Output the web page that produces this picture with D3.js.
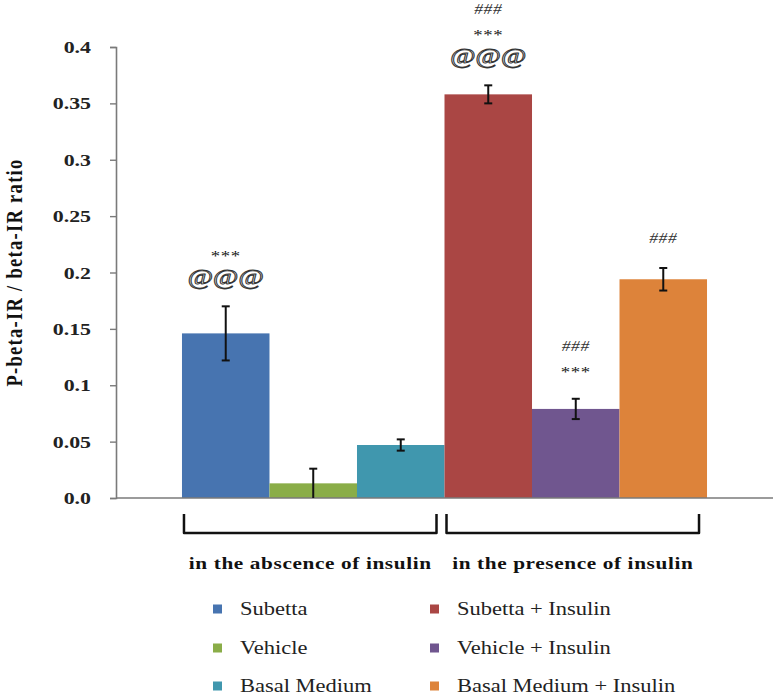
<!DOCTYPE html>
<html>
<head>
<meta charset="utf-8">
<script src="https://cdn.jsdelivr.net/npm/d3@7"></script>
<style>
  body { margin: 0; background: #fff; }
  svg { display: block; }
</style>
</head>
<body>
<div class="chart"></div>
<script>
const categories = ["Subetta", "Vehicle", "Basal Medium", "Subetta + Insulin", "Vehicle + Insulin", "Basal Medium + Insulin"];
const values = [0.146, 0.013, 0.047, 0.358, 0.079, 0.194];
const errors = [0.024, 0.013, 0.005, 0.008, 0.009, 0.010];
const marks = [["***", "@@@"], [], [], ["###", "***", "@@@"], ["###", "***"], ["###"]];
const colors = ["#4774b0", "#8aad48", "#4097ae", "#aa4644", "#70568f", "#dd833a"];
const groupLabels = ["in the abscence of insulin", "in the presence of insulin"];
const groupMembers = [[0, 1, 2], [3, 4, 5]];
const yTicks = [0, 0.05, 0.1, 0.15, 0.2, 0.25, 0.3, 0.35, 0.4];

const data = categories.map((c, i) => ({name: c, value: values[i], err: errors[i], marks: marks[i], color: colors[i]}));

const width = 779, height = 696;
const plot = {left: 116, right: 773, top: 47, bottom: 498};
const serif = "'Liberation Serif', 'Times New Roman', serif";
const SX = 1.25; // the original figure is stretched sideways

const svg = d3.select(".chart").append("svg")
    .attr("width", width)
    .attr("height", height);

// text at (x,y), widened by SX
function wideText(g, x, y, str) {
  return g.append("text")
      .attr("transform", "translate(" + x + "," + y + ") scale(" + SX + ",1)")
      .attr("font-family", serif)
      .text(str);
}

const x = d3.scaleBand()
    .domain(categories)
    .range([plot.left, plot.right])
    .paddingInner(0)
    .paddingOuter(0.754);

const y = d3.scaleLinear()
    .domain([0, 0.4])
    .range([plot.bottom, plot.top]);

// bars
svg.append("g")
  .selectAll("rect")
  .data(data)
  .join("rect")
    .attr("x", d => x(d.name))
    .attr("y", d => y(d.value))
    .attr("width", x.bandwidth())
    .attr("height", d => y(0) - y(d.value))
    .attr("fill", d => d.color);

// y axis
const yAxis = d3.axisLeft(y)
    .tickValues(yTicks)
    .tickSize(6)
    .tickPadding(25)
    .tickFormat(d => d === 0 ? "0.0" : String(+d.toFixed(2)));

svg.append("g")
    .attr("class", "y-axis")
    .attr("transform", "translate(" + plot.left + ",0)")
    .call(yAxis)
    .call(g => g.select(".domain").attr("stroke", "#7a7a7a").attr("stroke-width", 1.6))
    .call(g => g.selectAll(".tick line").attr("stroke", "#7a7a7a").attr("stroke-width", 1.4))
    .call(g => g.selectAll(".tick text")
        .attr("x", 0)
        .attr("transform", "translate(-25,0) scale(" + SX + ",1)")
        .attr("font-family", serif)
        .attr("font-weight", "bold")
        .attr("font-size", 17.5)
        .attr("fill", "#222"));

// baseline
svg.append("line")
    .attr("x1", plot.left).attr("x2", plot.right)
    .attr("y1", y(0)).attr("y2", y(0))
    .attr("stroke", "#7a7a7a")
    .attr("stroke-width", 1.6);

// error bars
const eb = svg.append("g")
    .attr("stroke", "#111")
    .attr("stroke-width", 2)
  .selectAll("g")
  .data(data)
  .join("g");

eb.append("line")
    .attr("x1", d => x(d.name) + x.bandwidth() / 2)
    .attr("x2", d => x(d.name) + x.bandwidth() / 2)
    .attr("y1", d => y(d.value + d.err))
    .attr("y2", d => y(Math.max(0, d.value - d.err)));

eb.append("line")
    .attr("x1", d => x(d.name) + x.bandwidth() / 2 - 4)
    .attr("x2", d => x(d.name) + x.bandwidth() / 2 + 4)
    .attr("y1", d => y(d.value + d.err))
    .attr("y2", d => y(d.value + d.err));

eb.filter(d => d.value - d.err > 0).append("line")
    .attr("x1", d => x(d.name) + x.bandwidth() / 2 - 4)
    .attr("x2", d => x(d.name) + x.bandwidth() / 2 + 4)
    .attr("y1", d => y(d.value - d.err))
    .attr("y2", d => y(d.value - d.err));

// significance marks, stacked upward from the error bar top
const markGap = 30, markStep = 23;
data.forEach(d => {
  const n = d.marks.length;
  d.marks.forEach((m, j) => {
    const cy = y(d.value + d.err) - markGap - (n - 1 - j) * markStep;
    const t = wideText(svg, x(d.name) + x.bandwidth() / 2, cy, m)
        .attr("text-anchor", "middle")
        .attr("dominant-baseline", "central");
    if (m === "@@@") {
      t.attr("font-size", 22)
       .attr("fill", "#fff")
       .attr("stroke", "#333")
       .attr("stroke-width", 0.9);
    } else if (m === "***") {
      t.attr("font-size", 15)
       .attr("letter-spacing", 0.5)
       .attr("fill", "#111")
       .attr("dy", "0.2em");
    } else {
      t.attr("font-size", 14)
       .attr("font-style", "italic")
       .attr("letter-spacing", 0.5)
       .attr("fill", "#333");
    }
  });
});

// group brackets
const bTop = 514, bBot = 533;
groupMembers.forEach((idx, gi) => {
  const x0 = x(categories[idx[0]]) + 2;
  const x1 = x(categories[idx[idx.length - 1]]) + x.bandwidth() - 8;
  svg.append("path")
      .attr("d", `M${x0},${bTop}V${bBot}H${x1}V${bTop}`)
      .attr("fill", "none")
      .attr("stroke", "#111")
      .attr("stroke-width", 2.5)
      .attr("stroke-linejoin", "round");
  wideText(svg, (x0 + x1) / 2, 569, groupLabels[gi])
      .attr("text-anchor", "middle")
      .attr("font-weight", "bold")
      .attr("font-size", 17)
      .attr("letter-spacing", 0.5)
      .attr("fill", "#111");
});

// y label
svg.append("text")
    .attr("transform", "translate(22," + ((plot.top + plot.bottom) / 2) + ") scale(" + SX + ",1) rotate(-90)")
    .attr("text-anchor", "middle")
    .attr("font-family", serif)
    .attr("font-weight", "bold")
    .attr("font-size", 18.5)
    .attr("letter-spacing", 1.3)
    .attr("fill", "#111")
    .text("P-beta-IR / beta-IR ratio");

// legend
const legCols = [213, 430], legRows = [609, 648, 686];
const leg = svg.append("g")
  .selectAll("g")
  .data(data)
  .join("g")
    .attr("transform", (d, i) => "translate(" + legCols[Math.floor(i / 3)] + "," + legRows[i % 3] + ")");

leg.append("rect")
    .attr("x", 0).attr("y", -4.5)
    .attr("width", 9).attr("height", 9)
    .attr("fill", d => d.color);

leg.each(function(d) {
  wideText(d3.select(this), 27, 0, d.name)
      .attr("dy", "0.35em")
      .attr("font-size", 18)
      .attr("fill", "#222");
});
</script>
</body>
</html>
